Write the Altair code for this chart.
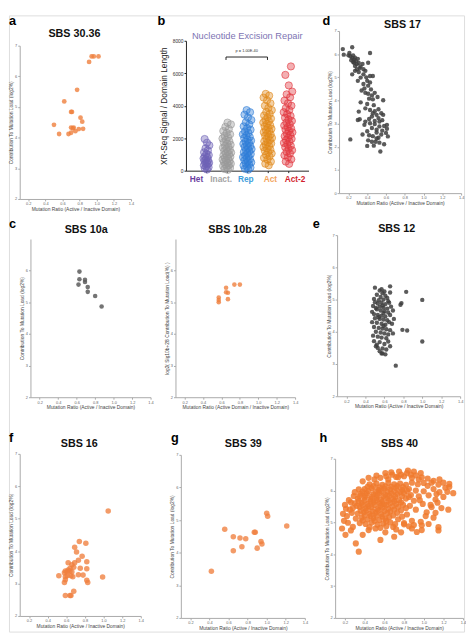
import altair as alt
import pandas as pd

W, H = 466, 631
FONT = "Liberation Sans"

# ---------------- data ----------------
x_ticks = [0.2, 0.4, 0.6, 0.8, 1.0, 1.2, 1.4]

sbs30_36 = [(0.94, 6.65), (0.965, 6.65), (1.02, 6.65), (0.91, 6.47), (0.77, 5.56), (0.62, 5.18),
            (0.70, 4.84), (0.71, 4.84), (0.81, 4.65), (0.83, 4.52), (0.50, 4.42), (0.70, 4.33),
            (0.72, 4.30), (0.79, 4.28), (0.84, 4.29), (0.75, 4.21), (0.56, 4.12), (0.67, 4.12),
            (0.70, 4.16), (0.73, 4.33)]

sbs17 = [(0.14, 6.22), (0.15, 5.98), (0.24, 6.30), (0.21, 6.05), (0.22, 5.91), (0.24, 5.84), (0.26, 5.77),
         (0.23, 5.74), (0.28, 5.70), (0.26, 5.63), (0.29, 5.56), (0.27, 5.49), (0.33, 5.46), (0.29, 5.35),
         (0.36, 5.35), (0.43, 6.05), (0.41, 5.63), (0.31, 5.23), (0.24, 5.13), (0.36, 5.13), (0.43, 5.06),
         (0.33, 4.99), (0.40, 4.85), (0.36, 4.71), (0.41, 4.64), (0.30, 4.85), (0.34, 4.43), (0.38, 4.33),
         (0.41, 4.29), (0.45, 4.22), (0.48, 4.33), (0.42, 4.08), (0.33, 3.92), (0.47, 3.80), (0.57, 4.01),
         (0.38, 3.66), (0.43, 3.59), (0.48, 3.54), (0.50, 3.38), (0.31, 3.52), (0.45, 3.31), (0.52, 3.24),
         (0.30, 3.16), (0.32, 3.19), (0.38, 3.09), (0.43, 3.02), (0.48, 2.98), (0.53, 3.09), (0.61, 2.95),
         (0.61, 2.78), (0.60, 2.60), (0.45, 2.81), (0.40, 2.67), (0.50, 2.74), (0.55, 2.53), (0.35, 2.53),
         (0.46, 2.46), (0.52, 2.39), (0.22, 2.32), (0.41, 2.28), (0.45, 2.22), (0.49, 2.22), (0.58, 2.11),
         (0.40, 2.04), (0.54, 1.80), (0.50, 2.36), (0.53, 2.88), (0.57, 3.38), (0.46, 4.05), (0.46, 5.06),
         (0.20, 5.95), (0.25, 5.95), (0.27, 5.85), (0.30, 5.80), (0.25, 5.66), (0.31, 5.62), (0.35, 5.58),
         (0.32, 5.40), (0.38, 5.28), (0.27, 5.28), (0.39, 5.00), (0.43, 4.78), (0.37, 4.52), (0.44, 4.48),
         (0.51, 4.15), (0.40, 3.85), (0.52, 3.62), (0.55, 3.45), (0.46, 3.45), (0.42, 3.20), (0.56, 3.15),
         (0.48, 3.12), (0.58, 2.90), (0.50, 2.62), (0.42, 2.50), (0.56, 2.70), (0.47, 2.05), (0.37, 2.95),
         (0.62, 2.45), (0.53, 2.18)]

sbs10a = [(0.63, 5.97), (0.63, 5.73), (0.69, 5.71), (0.69, 5.64), (0.62, 5.56), (0.72, 5.48),
          (0.72, 5.33), (0.80, 5.20), (0.87, 4.87)]

sbs10b_28 = [(0.57, 5.15), (0.57, 5.07), (0.57, 5.00), (0.65, 5.46), (0.65, 5.32), (0.67, 5.30),
             (0.67, 5.10), (0.74, 5.56), (0.80, 5.56)]

sbs12 = [(0.50, 5.37), (0.66, 5.41), (0.66, 5.22), (0.55, 5.28), (0.58, 5.20), (0.52, 5.15), (0.61, 5.12),
         (0.56, 5.08), (0.63, 5.05), (0.49, 5.02), (0.59, 5.00), (0.54, 4.98), (0.64, 4.95), (0.60, 5.25),
         (0.57, 5.32), (0.50, 4.92), (0.53, 4.88), (0.57, 4.90), (0.61, 4.86), (0.65, 4.90), (0.48, 4.80),
         (0.55, 4.78), (0.59, 4.75), (0.63, 4.72), (0.67, 4.78), (0.52, 4.70), (0.56, 4.66), (0.60, 4.64),
         (0.47, 4.62), (0.64, 4.60), (0.69, 4.66), (0.58, 4.82), (0.51, 4.74), (0.49, 4.55), (0.53, 4.52),
         (0.57, 4.50), (0.61, 4.48), (0.66, 4.52), (0.50, 4.42), (0.55, 4.40), (0.59, 4.38), (0.63, 4.36),
         (0.47, 4.30), (0.52, 4.28), (0.57, 4.25), (0.61, 4.22), (0.65, 4.30), (0.70, 4.40), (0.54, 4.45),
         (0.59, 4.58), (0.68, 4.25), (0.49, 4.15), (0.54, 4.12), (0.58, 4.10), (0.62, 4.08), (0.66, 4.05),
         (0.51, 4.00), (0.56, 3.98), (0.60, 3.95), (0.64, 3.92), (0.48, 3.88), (0.53, 3.85), (0.57, 3.82),
         (0.62, 3.80), (0.69, 3.95), (0.59, 4.18), (0.49, 3.71), (0.51, 3.55), (0.55, 3.68), (0.60, 3.62),
         (0.64, 3.70), (0.53, 3.50), (0.58, 3.48), (0.62, 3.45), (0.57, 3.33), (0.58, 3.33), (0.52, 3.60),
         (0.66, 3.55), (0.61, 3.30), (0.55, 3.40), (0.83, 5.24), (1.00, 4.99), (0.78, 4.89), (0.77, 4.84),
         (0.79, 4.06), (0.84, 4.04), (1.00, 3.70), (0.72, 2.95)]

sbs16 = [(1.05, 5.24), (0.74, 4.30), (0.81, 4.24), (0.69, 4.12), (0.71, 3.97), (0.77, 3.84), (0.73, 3.72),
         (0.82, 3.67), (0.69, 3.64), (0.62, 3.64), (0.66, 3.58), (0.64, 3.47), (0.75, 3.47), (0.82, 3.46),
         (0.59, 3.39), (0.62, 3.42), (0.66, 3.36), (0.68, 3.50), (0.58, 3.33), (0.61, 3.24), (0.73, 3.27),
         (0.65, 3.24), (0.67, 3.21), (0.78, 3.26), (0.52, 3.24), (0.59, 3.21), (0.99, 3.20), (0.82, 3.10),
         (0.83, 3.03), (0.59, 3.12), (0.58, 3.03), (0.68, 2.76), (0.59, 2.63), (0.64, 2.63), (0.65, 2.63),
         (0.61, 3.36), (0.64, 3.39)]

sbs39 = [(1.00, 5.21), (1.01, 5.12), (1.21, 4.82), (0.56, 4.72), (0.87, 4.63), (0.88, 4.63), (0.65, 4.49),
         (0.72, 4.45), (0.78, 4.43), (0.94, 4.34), (0.95, 4.27), (0.74, 4.18), (0.90, 4.14), (0.65, 4.06),
         (0.42, 3.43)]

sbs40 = [(0.34, 4.08), (0.31, 4.34), (0.205, 4.61), (0.17, 4.81), (0.56, 4.45), (0.98, 4.91), (0.98, 4.76),
         (1.26, 6.21), (1.13, 5.89), (1.22, 6.09), (1.16, 6.35), (1.10, 6.31), (1.15, 6.19), (1.00, 6.24),
         (1.08, 5.48), (1.03, 5.32), (0.97, 5.02), (0.88, 4.81), (0.77, 4.69), (0.69, 4.86), (0.80, 4.94),
         (0.61, 4.69), (0.51, 4.81), (0.44, 4.76), (0.38, 4.61), (0.28, 4.86), (0.23, 4.99), (0.18, 5.27),
         (0.21, 5.43), (0.26, 5.63), (0.29, 5.83), (0.34, 6.04), (0.38, 6.29), (0.44, 6.40), (0.52, 6.47),
         (0.61, 6.55), (0.67, 6.57), (0.75, 6.60), (0.84, 6.63), (0.90, 6.60), (0.97, 6.55), (0.80, 6.45),
         (0.88, 6.40), (0.95, 6.35), (0.72, 6.43), (0.64, 6.35), (0.77, 6.50), (0.87, 6.50),
         (0.45, 6.20), (0.52, 6.22), (0.58, 6.18), (0.64, 6.24), (0.70, 6.20), (0.76, 6.22), (0.82, 6.18),
         (0.88, 6.25), (0.94, 6.20), (1.04, 6.15), (0.40, 6.05), (0.47, 6.08), (0.54, 6.02), (0.60, 6.06),
         (0.66, 6.04), (0.72, 6.08), (0.78, 6.02), (0.85, 6.05), (0.92, 6.00), (1.00, 5.98), (0.36, 5.90),
         (0.42, 5.92), (0.49, 5.88), (0.55, 5.93), (0.61, 5.87), (0.67, 5.91), (0.73, 5.89), (0.80, 5.92),
         (0.87, 5.86), (0.95, 5.82), (1.05, 5.85), (0.33, 5.75), (0.40, 5.78), (0.46, 5.73), (0.52, 5.77),
         (0.57, 5.72), (0.63, 5.76), (0.69, 5.74), (0.75, 5.70), (0.82, 5.75), (0.90, 5.68), (1.12, 5.72),
         (0.30, 5.60), (0.37, 5.62), (0.43, 5.58), (0.49, 5.63), (0.55, 5.60), (0.60, 5.57), (0.66, 5.61),
         (0.72, 5.58), (0.79, 5.55), (0.86, 5.52), (0.99, 5.58), (0.28, 5.45), (0.35, 5.48), (0.41, 5.44),
         (0.47, 5.47), (0.53, 5.42), (0.58, 5.46), (0.64, 5.43), (0.70, 5.40), (0.77, 5.38), (0.92, 5.40),
         (1.18, 5.45), (0.27, 5.30), (0.33, 5.28), (0.39, 5.32), (0.45, 5.27), (0.51, 5.30), (0.57, 5.26),
         (0.63, 5.29), (0.69, 5.22), (0.83, 5.25), (1.02, 5.20), (0.31, 5.12), (0.37, 5.15), (0.43, 5.10),
         (0.49, 5.14), (0.55, 5.08), (0.61, 5.12), (0.74, 5.10), (0.88, 5.05), (1.12, 5.30), (0.35, 4.98),
         (0.41, 4.95), (0.47, 5.00), (0.53, 4.93), (0.59, 4.97), (0.66, 5.00), (0.80, 4.98), (0.45, 4.85),
         (0.56, 4.83), (0.62, 4.88), (0.72, 4.78), (0.90, 4.92), (0.50, 6.35), (0.56, 6.40), (0.62, 6.45),
         (0.68, 6.50), (0.74, 6.42), (0.83, 6.55), (0.92, 6.48), (0.98, 6.42), (1.04, 6.38), (1.08, 6.25),
         (1.20, 6.25), (1.26, 6.12), (1.24, 5.96), (1.16, 5.95), (1.10, 6.05), (1.14, 5.62), (1.20, 5.80),
         (1.30, 5.92), (1.07, 5.55), (0.96, 5.70), (0.20, 5.55), (0.22, 5.20), (0.24, 5.70), (0.19, 5.05),
         (0.25, 5.40), (0.30, 5.95), (0.26, 4.75), (1.15, 4.85), (1.15, 4.75), (1.05, 4.95), (0.93, 4.70),
         (0.85, 4.88), (0.70, 4.55), (1.25, 5.40), (1.10, 5.15),
         (0.43, 6.12), (0.49, 6.14), (0.55, 6.10), (0.61, 6.13), (0.67, 6.12), (0.73, 6.14), (0.79, 6.11),
         (0.38, 5.97), (0.44, 5.99), (0.51, 5.96), (0.57, 5.99), (0.63, 5.97), (0.70, 5.98), (0.76, 5.96),
         (0.83, 5.99), (0.35, 5.83), (0.41, 5.84), (0.47, 5.81), (0.53, 5.85), (0.59, 5.82), (0.65, 5.84),
         (0.71, 5.81), (0.78, 5.83), (0.85, 5.80), (0.34, 5.67), (0.40, 5.69), (0.46, 5.66), (0.52, 5.69),
         (0.58, 5.65), (0.64, 5.68), (0.70, 5.66), (0.77, 5.63), (0.32, 5.52), (0.38, 5.54), (0.44, 5.51),
         (0.50, 5.55), (0.56, 5.52), (0.62, 5.54), (0.68, 5.50), (0.74, 5.48), (0.82, 5.45), (0.36, 5.37),
         (0.42, 5.38), (0.48, 5.35), (0.54, 5.38), (0.60, 5.36), (0.66, 5.34), (0.73, 5.30), (0.40, 5.22),
         (0.46, 5.20), (0.52, 5.22), (0.58, 5.18), (0.65, 5.17), (0.78, 5.18), (0.38, 5.06), (0.50, 5.05),
         (0.62, 5.04), (0.71, 4.95)]

# Panel b: nucleotide excision repair per domain type
ner_cats = ["Het", "Inact.", "Rep", "Act", "Act-2"]
ner_het = [70, 140, 210, 260, 330, 390, 450, 480, 540, 600, 640, 700, 760, 820, 880, 960, 1040, 1130,
           1250, 1380, 1560, 1720, 1950]
ner_inact = [50, 110, 160, 230, 280, 330, 390, 430, 480, 540, 590, 640, 690, 740, 790, 850, 900, 950, 1000,
             1060, 1110, 1170, 1220, 1290, 1350, 1410, 1470, 1530, 1600, 1680, 1750, 1820, 1900, 1980, 2060,
             2150, 2240, 2330, 2440, 2560, 2700, 2850, 2960]
ner_rep = [60, 120, 190, 250, 320, 380, 450, 510, 570, 640, 700, 760, 830, 890, 950, 1020, 1080, 1140, 1200,
           1270, 1330, 1390, 1460, 1520, 1580, 1650, 1710, 1780, 1850, 1920, 2000, 2080, 2160, 2240, 2330,
           2420, 2520, 2620, 2730, 2850, 2980, 3120, 3280, 3450, 3600, 3730]
ner_act = [330, 430, 560, 680, 790, 880, 970, 1060, 1140, 1220, 1300, 1370, 1450, 1520, 1600, 1670, 1740,
           1810, 1880, 1950, 2020, 2090, 2160, 2230, 2300, 2370, 2440, 2510, 2580, 2650, 2720, 2800, 2880,
           2960, 3040, 3120, 3210, 3300, 3400, 3500, 3610, 3730, 3860, 4000, 4150, 4330, 4500, 4620, 4730]
ner_act2 = [420, 560, 700, 830, 950, 1060, 1160, 1260, 1350, 1440, 1530, 1620, 1710, 1800, 1880, 1960, 2040,
            2120, 2200, 2280, 2360, 2440, 2520, 2600, 2690, 2780, 2870, 2960, 3060, 3160, 3260, 3370, 3480,
            3600, 3730, 3860, 4000, 4150, 4320, 4520, 4700, 4870, 5250, 5900, 6420]
ner_values = [ner_het, ner_inact, ner_rep, ner_act, ner_act2]
ner_ticks = [0, 2000, 4000, 6000, 8000]
bracket_ends = [0.96, 2.99]
bracket_level = 7000
bracket_cap = 6820
p_label = "p = 1.00E-40"
p_level = 7380

# ---------------- styles ----------------
ORANGE = "#ef7f3d"
DARK = "#3e3e3e"
GREY = "#5c5c5c"
AX = "#a9a9a9"
swarm_colors = ["#6e62b6", "#9a9a9a", "#2f7ed8", "#e08a1c", "#e2383f"]
label_colors = ["#6b3fa0", "#a3a3a3", "#3ea0dc", "#f3a45c", "#d21f2e"]
XT_MR = "Mutation Ratio (Active / Inactive Domain)"
YT_CL = "Contribution To Mutation Load (log2%)"


def scatter(points, xr, yr, ydom, yvals, color, size, opacity, ytitle, xtitle):
    df = pd.DataFrame(points, columns=["ratio", "load"])
    xaxis = alt.Axis(orient="bottom", offset=yr[0] - H, values=x_ticks, format=".1f", grid=False,
                     domainColor=AX, tickColor=AX, tickSize=2, labelFontSize=4, labelColor="#666",
                     labelPadding=1, labelFlush=False, labelOverlap=False, labelFont=FONT,
                     title=xtitle, titleFontSize=5, titleFontWeight="normal", titleColor="#444",
                     titlePadding=1, titleFont=FONT)
    yaxis = alt.Axis(orient="left", offset=-xr[0], values=yvals, format="d", grid=False,
                     domainColor=AX, tickColor=AX, tickSize=2, labelFontSize=4, labelColor="#666",
                     labelPadding=1, labelOverlap=False, labelFont=FONT,
                     title=ytitle, titleFontSize=5, titleFontWeight="normal", titleColor="#444",
                     titlePadding=1, titleFont=FONT)
    return alt.Chart(df).mark_circle(size=size, color=color, opacity=opacity).encode(
        x=alt.X("ratio:Q", scale=alt.Scale(domain=[0.1, 1.4], range=list(xr), nice=False, zero=False), axis=xaxis),
        y=alt.Y("load:Q", scale=alt.Scale(domain=ydom, range=list(yr), nice=False, zero=False), axis=yaxis),
    )


def label(text, x, y, size=11, weight="bold", color="#111", align="center", baseline="middle"):
    return alt.Chart(pd.DataFrame({"t": [text]})).mark_text(
        fontSize=size, fontWeight=weight, color=color, font=FONT, align=align, baseline=baseline
    ).encode(x=alt.value(x), y=alt.value(y), text="t:N")


layers = []

# a
layers.append(scatter(sbs30_36, (11, 125), (188, 31), [2, 7], [2, 3, 4, 5, 6, 7], ORANGE, 24, 0.8, YT_CL, XT_MR))
# d
layers.append(scatter(sbs17, (338, 463), (182, 16), [0, 7], [0, 1, 2, 3, 4, 5, 6, 7], DARK, 20, 0.85, YT_CL, XT_MR))
# c
layers.append(scatter(sbs10a, (22, 145), (391, 229), [2, 7], [2, 3, 4, 5, 6], GREY, 22, 0.85, YT_CL, XT_MR))
layers.append(scatter(sbs10b_28, (170.5, 293), (391, 229), [2, 7], [2, 3, 4, 5, 6], ORANGE, 22, 0.8,
                      "log2( Sig10b+28 Contribution To Mutation Load(%) )",
                      "Mutation Ratio (Active Domain / Inactive Domain)"))
# e
layers.append(scatter(sbs12, (336, 462), (390, 225), [2, 7], [2, 3, 4, 5, 6, 7], DARK, 20, 0.85, YT_CL, XT_MR))
# f g h
layers.append(scatter(sbs16, (11, 135), (615, 449), [2, 7], [2, 3, 4, 5, 6, 7], ORANGE, 32, 0.78, YT_CL, XT_MR))
layers.append(scatter(sbs39, (176, 303), (617, 450), [2, 7], [2, 3, 4, 5, 6, 7], ORANGE, 32, 0.78, YT_CL, XT_MR))
layers.append(scatter(sbs40, (334, 465), (617, 454), [2, 7], [2, 3, 4, 5, 6, 7], "#f07a2e", 40, 0.85, YT_CL, XT_MR))

# b : swarm plot
rows = []
for i, (c, vals) in enumerate(zip(ner_cats, ner_values)):
    for v in vals:
        rows.append({"cat": c, "idx": i, "v": v})
bdf = pd.DataFrame(rows)
BX = dict(domain=[-1, 5], range=[181.25, 306.75], nice=False, zero=False)
BY = dict(domain=[0, 8000], range=[159, 26], nice=False, zero=False)

swarm = alt.Chart(bdf).transform_window(
    rn="row_number()", groupby=["cat"], sort=[alt.SortField("v", order="ascending")]
).transform_calculate(
    xj="datum.idx + ((datum.rn * 0.618034) % 1 - 0.5) * (datum.idx == 0 ? 0.30 : 0.44)"
).mark_circle(size=55, opacity=1, fillOpacity=0.4, strokeOpacity=0.9, strokeWidth=0.7).encode(
    x=alt.X("xj:Q", scale=alt.Scale(**BX),
            axis=alt.Axis(orient="bottom", offset=159 - H, values=[0, 1, 2, 3, 4], labels=False, grid=False,
                          domainColor="#222", tickColor="#222", tickSize=2, title=None)),
    y=alt.Y("v:Q", scale=alt.Scale(**BY),
            axis=alt.Axis(orient="left", offset=-181.25, values=ner_ticks, format="d", grid=False,
                          domainColor="#222", tickColor="#222", tickSize=2, labelFontSize=5,
                          labelColor="#333", labelPadding=1, labelFont=FONT,
                          title="XR-Seq Signal / Domain Length", titleFontSize=8.5, titleFontWeight="normal",
                          titleColor="#222", titlePadding=4, titleFont=FONT)),
    fill=alt.Fill("cat:N", scale=alt.Scale(domain=ner_cats, range=swarm_colors), legend=None),
    stroke=alt.Stroke("cat:N", scale=alt.Scale(domain=ner_cats, range=swarm_colors), legend=None),
)
layers.append(swarm)

bracket = alt.Chart(pd.DataFrame({"x1": [bracket_ends[0]], "x2": [bracket_ends[1]], "y": [bracket_level]})
                    ).mark_rule(color="#222", strokeWidth=1).encode(
    x=alt.X("x1:Q", scale=alt.Scale(**BX), axis=None), x2="x2:Q",
    y=alt.Y("y:Q", scale=alt.Scale(**BY), axis=None))
caps = alt.Chart(pd.DataFrame({"x": bracket_ends, "y": [bracket_level] * 2, "y2": [bracket_cap] * 2})
                 ).mark_rule(color="#222", strokeWidth=1).encode(
    x=alt.X("x:Q", scale=alt.Scale(**BX), axis=None),
    y=alt.Y("y:Q", scale=alt.Scale(**BY), axis=None), y2="y2:Q")
ptext = alt.Chart(pd.DataFrame({"x": [sum(bracket_ends) / 2], "y": [p_level], "t": [p_label]})
                  ).mark_text(fontSize=4, color="#333", font=FONT).encode(
    x=alt.X("x:Q", scale=alt.Scale(**BX), axis=None),
    y=alt.Y("y:Q", scale=alt.Scale(**BY), axis=None), text="t:N")
cat_labels = alt.Chart(pd.DataFrame({"cat": ner_cats})).mark_text(
    fontSize=8.5, fontWeight="bold", font=FONT, baseline="middle").encode(
    x=alt.X("cat:N", scale=alt.Scale(type="point", domain=ner_cats, range=[192, 293], padding=0), axis=None),
    y=alt.value(168),
    color=alt.Color("cat:N", scale=alt.Scale(domain=ner_cats, range=label_colors), legend=None),
    text="cat:N")
layers += [bracket, caps, ptext, cat_labels]

# titles
layers += [
    label("SBS 30.36", 67, 19),
    label("Nucleotide Excision Repair", 244, 21, size=9.5, weight="normal", color="#7d74b3"),
    label("SBS 17", 403, 10),
    label("SBS 10a", 79, 220),
    label("SBS 10b.28", 234, 220),
    label("SBS 12", 397, 219),
    label("SBS 16", 72, 439),
    label("SBS 39", 240, 439),
    label("SBS 40", 400, 439),
]
# panel letters
for t, x, y in [("a", 0, 0), ("b", 152, 0), ("d", 321, 0)]:
    layers.append(label(t, x, y, size=13, align="left", baseline="top", color="#000"))
for t, x, y in [("c", 0, 218), ("e", 311, 218), ("f", 0, 437), ("g", 166, 437), ("h", 318, 437)]:
    layers.append(label(t, x, y, size=13, align="left", baseline="alphabetic", color="#000"))

chart = alt.layer(*layers).resolve_scale(
    x="independent", y="independent", fill="independent", stroke="independent", color="independent"
).resolve_axis(x="independent", y="independent").properties(
    width=W, height=H, padding=0
).configure_view(stroke=None).configure(font=FONT)

chart.save("out.html", embed_options={"renderer": "svg", "actions": False})
